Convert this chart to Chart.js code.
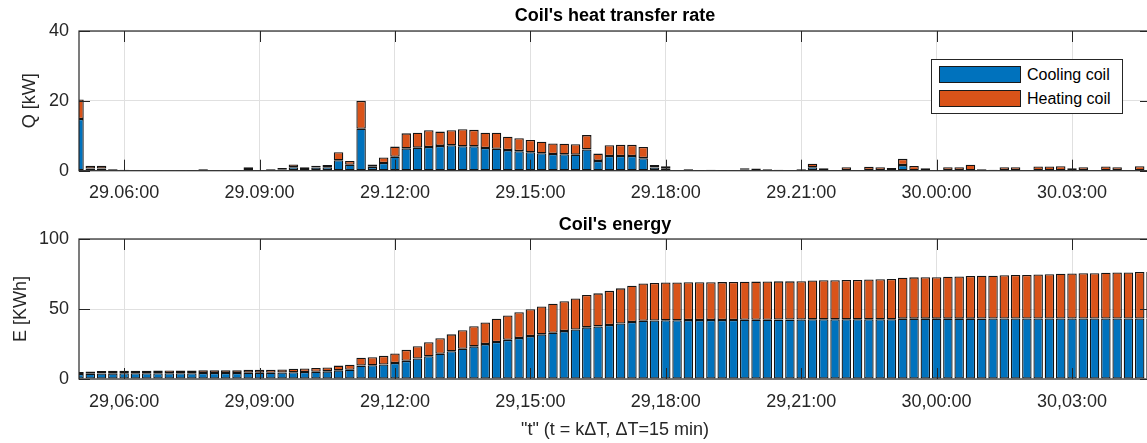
<!DOCTYPE html>
<html>
<head>
<meta charset="utf-8">
<script src="https://cdn.jsdelivr.net/npm/chart.js@4"></script>
<style>
html,body{margin:0;padding:0;background:#fff;overflow:hidden}
#wrap{position:relative;width:1147px;height:443px;overflow:hidden;background:#fff}
.pane{position:absolute;left:0;width:1160px}
#legend{position:absolute;left:931px;top:59px;width:192px;height:55px;box-sizing:border-box;border:1px solid #262626;background:#fff;font-family:'Liberation Sans',Arial,Helvetica,sans-serif;font-size:16px;color:#000}
.item{position:absolute;left:7px;height:17px;display:flex;align-items:center;white-space:nowrap}
.sw{width:82px;height:17px;box-sizing:border-box;border:1px solid #1a1a1a}
.lbl{margin-left:6px;line-height:17px}
</style>
</head>
<body>
<div id="wrap">
  <div class="pane" style="top:0;height:210px"><canvas id="c1"></canvas></div>
  <div class="pane" style="top:210px;height:233px"><canvas id="c2"></canvas></div>
  <div id="legend"></div>
</div>
<script>
// ---------- data ----------
const seriesNames = ['Cooling coil', 'Heating coil'];

// heat transfer rate Q [kW], one value per 15 min step starting 29,05:00
const coolingQ = [
 14.8,0.6,0.6,0.3,0.2,0.1,0.05,0.05,0.1,0.05,
 0.05,0.3,0.05,0.05,0.05,0.5,0.05,0.3,0.4,1.0,
 0.5,0.9,1.0,3.0,1.7,12.0,1.1,2.2,4.0,6.4,
 6.6,6.8,7.1,7.3,7.0,7.0,6.5,6.3,5.9,5.6,
 5.3,5.0,4.8,4.7,4.6,6.1,2.8,4.2,4.2,4.2,
 3.6,0.9,0.7,0.1,0.3,0.05,0.2,0.05,0.1,0.4,
 0.2,0.2,0.2,0,0.2,1.0,0,0,0,0,
 0,0,0,1.6,0,0,0,0,0,0,
 0.2,0.2,0,0,0,0,0,0,0,0,
 0,0,0,0,0,0];
const heatingQ = [
 5.6,0.8,0.8,0.2,0.1,0.1,0.05,0.05,0.1,0.05,
 0.05,0.2,0.05,0.05,0.05,0.5,0.05,0.2,0.4,0.8,
 0.5,0.5,0.6,2.3,1.1,8.0,0.7,1.6,2.9,4.3,
 4.3,4.8,4.1,4.3,4.9,4.7,4.4,4.6,3.8,3.7,
 3.5,3.3,3.0,3.0,3.0,4.1,2.1,3.1,3.2,3.2,
 3.2,0.7,0.6,0.1,0.2,0.05,0.1,0.05,0.1,0.3,
 0.4,0.2,0.1,0,0.2,1.0,0.7,0,1.0,0,
 1.1,1.0,0.8,1.8,1.35,0.7,0,1.0,1.0,1.7,
 0.2,0.1,1.0,1.0,0,1.2,1.2,1.3,0.7,1.0,
 0,1.2,1.0,0,1.3,0];

// energy E [KWh]
const coolingE = [
 3.66,3.81,3.96,4.04,4.09,4.11,4.12,4.14,4.16,4.17,
 4.19,4.26,4.27,4.29,4.30,4.42,4.44,4.50,4.60,4.85,
 4.98,5.20,5.45,6.19,6.61,9.58,9.85,10.40,11.39,12.97,
 14.60,16.29,18.05,19.85,21.58,23.31,24.93,26.48,27.95,29.33,
 30.64,31.88,33.07,34.23,35.37,36.88,37.57,38.61,39.65,40.69,
 41.58,41.81,41.98,42.01,42.08,42.08,42.13,42.15,42.17,42.27,
 42.32,42.37,42.42,42.42,42.47,42.72,42.72,42.72,42.72,42.72,
 42.72,42.72,42.72,43.11,43.11,43.11,43.11,43.11,43.11,43.11,
 43.16,43.21,43.21,43.21,43.21,43.21,43.21,43.21,43.21,43.21,
 43.21,43.21,43.21,43.21,43.21,43.21];
const heatingE = [
 1.34,1.54,1.73,1.78,1.80,1.82,1.83,1.85,1.87,1.88,
 1.90,1.95,1.96,1.97,1.98,2.10,2.11,2.16,2.26,2.45,
 2.57,2.69,2.83,3.39,3.65,5.57,5.74,6.12,6.82,7.85,
 8.88,10.03,11.02,12.05,13.23,14.35,15.41,16.51,17.42,18.32,
 19.15,19.95,20.67,21.39,22.11,23.09,23.60,24.34,25.10,25.87,
 26.64,26.81,26.96,26.98,27.02,27.03,27.06,27.07,27.10,27.17,
 27.26,27.31,27.34,27.34,27.39,27.63,27.79,27.79,28.03,28.03,
 28.30,28.54,28.73,29.16,29.48,29.65,29.65,29.89,30.13,30.54,
 30.59,30.61,30.85,31.09,31.09,31.38,31.67,31.98,32.15,32.39,
 32.39,32.68,32.92,32.92,33.23,33.23];

// categories: 96 steps of 15 min from 29,05:00
const times = [];
for (let k = 0; k < 96; k++) {
  const m = 5 * 60 + 15 * k;
  const d = 29 + Math.floor(m / 1440);
  const hh = Math.floor((m % 1440) / 60), mm = m % 60;
  times.push(d + ',' + String(hh).padStart(2, '0') + ':' + String(mm).padStart(2, '0'));
}

// x tick positions (category index) and labels
const tickIndex = [4, 16, 28, 40, 52, 64, 76, 88];
const tickLabelsTop = ['29.06:00','29.09:00','29.12:00','29.15:00','29.18:00','29.21:00','30.00:00','30.03:00'];
const tickLabelsBottom = ['29,06:00','29,09:00','29,12:00','29,15:00','29,18:00','29,21:00','30,00:00','30,03:00'];

// ---------- style ----------
const FONT = "'Liberation Sans', Arial, Helvetica, sans-serif";
const TXT = '#262626';
const GRID = '#e0e0e0';
const BLUE = '#0072BD', ORANGE = '#D95319', EDGE = '#141414';

const frame = {
  id: 'frame',
  afterDatasetsDraw(chart) {
    const {ctx, chartArea: a, scales: {x, y}} = chart;
    const TL = 11;
    ctx.save();
    ctx.strokeStyle = TXT;
    ctx.lineWidth = 1;
    ctx.beginPath();
    x.ticks.forEach(t => {
      const px = Math.round(x.getPixelForValue(t.value)) + 0.5;
      ctx.moveTo(px, a.bottom); ctx.lineTo(px, a.bottom - TL);
      ctx.moveTo(px, a.top); ctx.lineTo(px, a.top + TL);
    });
    y.ticks.forEach(t => {
      const py = Math.round(y.getPixelForValue(t.value)) + 0.5;
      ctx.moveTo(a.left, py); ctx.lineTo(a.left + TL, py);
      ctx.moveTo(a.right, py); ctx.lineTo(a.right - TL, py);
    });
    ctx.stroke();
    ctx.lineWidth = 1.2;
    ctx.strokeRect(a.left, a.top, a.right - a.left, a.bottom - a.top);
    ctx.restore();
  }
};

const htmlLegend = {
  id: 'htmlLegend',
  afterUpdate(chart) {
    const el = document.getElementById('legend');
    el.innerHTML = '';
    chart.data.datasets.forEach((ds, i) => {
      const it = document.createElement('div');
      it.className = 'item';
      it.style.top = (6 + i * 24) + 'px';
      const sw = document.createElement('div');
      sw.className = 'sw';
      sw.style.background = ds.backgroundColor;
      const lb = document.createElement('span');
      lb.className = 'lbl';
      lb.textContent = ds.label;
      it.appendChild(sw); it.appendChild(lb);
      el.appendChild(it);
    });
  }
};

function datasets(a, b) {
  const common = {borderColor: EDGE, borderWidth: 1.3, borderSkipped: false, clip: 0,
                  barPercentage: 0.84, categoryPercentage: 1};
  return [
    Object.assign({label: seriesNames[0], data: a, backgroundColor: BLUE}, common),
    Object.assign({label: seriesNames[1], data: b, backgroundColor: ORANGE}, common)
  ];
}

function options(o) {
  return {
    responsive: true, maintainAspectRatio: false, animation: false,
    layout: {padding: {left: 0, right: 9, top: 0, bottom: 0}},
    plugins: {
      legend: {display: false}, tooltip: {enabled: false},
      title: {display: true, fullSize: false, text: o.title, color: '#000',
              font: {family: FONT, size: 18, weight: 'bold', lineHeight: 1.2}, padding: o.titlePad}
    },
    scales: {
      x: {
        stacked: true, offset: false,
        afterBuildTicks: s => { s.ticks = tickIndex.map(v => ({value: v})); },
        grid: {offset: false, drawTicks: false, lineWidth: 1, color: GRID},
        border: {display: false},
        ticks: {autoSkip: false, maxRotation: 0, minRotation: 0, padding: 12, color: TXT,
                font: {family: FONT, size: 18, lineHeight: 1.2},
                callback: v => { const j = tickIndex.indexOf(v); return j >= 0 ? o.tickLabels[j] : ''; }},
        title: o.xTitle ? {display: true, text: o.xTitle, color: TXT,
                           font: {family: FONT, size: 18, lineHeight: 1.2}, padding: {top: 0, bottom: 2}}
                        : {display: false},
        afterFit: s => { s.height = o.xH; }
      },
      y: {
        stacked: true, min: 0, max: o.yMax,
        ticks: {stepSize: o.yStep, padding: 10, color: TXT, font: {family: FONT, size: 18, lineHeight: 1.2}},
        grid: {color: GRID, drawTicks: false},
        border: {display: false},
        title: {display: true, text: o.yTitle, color: TXT, font: {family: FONT, size: 18, lineHeight: 1.2},
                padding: {top: o.yTitlePad, bottom: 0}},
        afterFit: s => { s.width = 79; }
      }
    }
  };
}

new Chart(document.getElementById('c1'), {
  type: 'bar',
  data: {labels: times, datasets: datasets(coolingQ, heatingQ)},
  options: options({title: "Coil's heat transfer rate", titlePad: {top: 5, bottom: 4.4},
                    yTitle: 'Q [kW]', yTitlePad: 19, yMax: 40, yStep: 20,
                    tickLabels: tickLabelsTop, xTitle: null, xH: 39.3}),
  plugins: [frame, htmlLegend]
});

new Chart(document.getElementById('c2'), {
  type: 'bar',
  data: {labels: times, datasets: datasets(coolingE, heatingE)},
  options: options({title: "Coil's energy", titlePad: {top: 4, bottom: 3.4},
                    yTitle: 'E [KWh]', yTitlePad: 10, yMax: 100, yStep: 50,
                    tickLabels: tickLabelsBottom, xTitle: '"t" (t = kΔT, ΔT=15 min)', xH: 64}),
  plugins: [frame]
});
</script>
</body>
</html>
